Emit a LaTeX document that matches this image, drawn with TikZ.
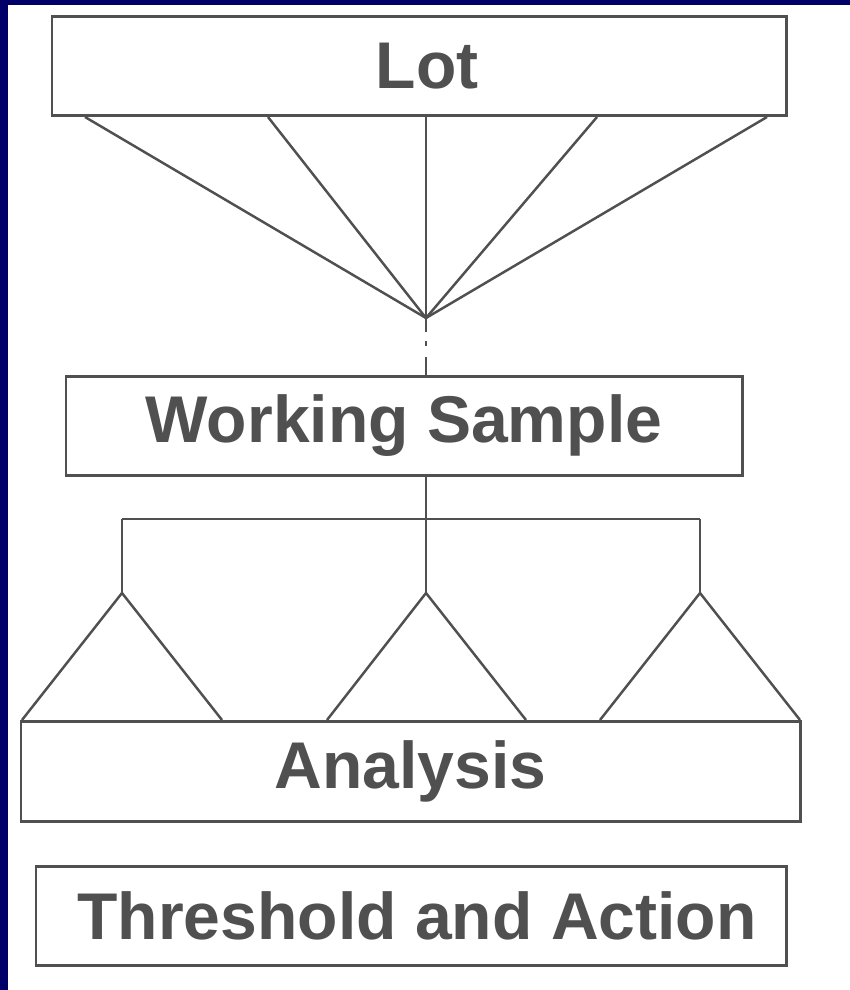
\documentclass[tikz,border=0pt]{standalone}
\usepackage{fontspec}
\setmainfont{Liberation Sans}
\usepackage{tikz}

\definecolor{navy}{RGB}{0,0,104}
\definecolor{ink}{RGB}{80,80,80}

\tikzset{
  box/.style={draw=ink, line width=0.85pt, inner sep=0pt, text=ink,
    font=\fontsize{18.8}{22}\bfseries\selectfont},
  link/.style={draw=ink, line width=0.7pt}
}

\begin{document}
\begin{tikzpicture}
   \fill [white] (0, 0) rectangle (8.5, -9.9);
   \fill [navy] (0, 0) rectangle (0.08, -9.9);
   \fill [navy] (0, 0) rectangle (8.5, -0.05);
   \useasboundingbox (0, 0) rectangle (8.5, -9.9);

   \node [box, minimum width=7.34cm, minimum height=0.99cm] (lot) at (4.19, -0.66) {\hspace*{0.16cm}Lot};
   \node [box, minimum width=6.76cm, minimum height=0.99cm] (ws) at (4.04, -4.26) {Working Sample};
   \node [box, minimum width=7.79cm, minimum height=1.0cm] (ana) at (4.105, -7.715) {Analysis};
   \node [box, minimum width=7.50cm, minimum height=0.99cm] (act) at (4.11, -9.16) {\hspace*{0.12cm}Threshold and Action};

   \coordinate (apex) at (4.26, -3.18);
   \coordinate (l1) at (0.85, -1.17);
   \coordinate (l2) at (2.68, -1.17);
   \coordinate (l3) at (4.26, -1.17);
   \coordinate (l4) at (5.97, -1.17);
   \coordinate (l5) at (7.67, -1.17);
   \foreach \p in {l1, l2, l3, l4, l5}
      \draw [link] (\p) -- (apex);
   \draw [ink, line width=0.85pt, dash pattern=on 4pt off 2.6pt on 1.4pt off 3.1pt on 5.1pt off 10pt]
      (apex) -- (ws.north -| apex);

   \coordinate (fork) at (4.26, -5.19);
   \coordinate (bl) at (1.22, -5.19);
   \coordinate (br) at (7.0, -5.19);
   \draw [link] (ws.south -| fork) -- (fork);
   \draw [link] (bl) -- (br);

   \coordinate (t1) at (1.22, -5.93);
   \coordinate (t2) at (4.26, -5.93);
   \coordinate (t3) at (7.0, -5.93);
   \draw [link] (bl) -- (t1);
   \draw [link] (fork) -- (t2);
   \draw [link] (br) -- (t3);

   \draw [link] (0.22, -7.2) -- (t1) -- (2.22, -7.2);
   \draw [link] (3.27, -7.2) -- (t2) -- (5.26, -7.2);
   \draw [link] (6.0, -7.2) -- (t3) -- (8.0, -7.2);
\end{tikzpicture}
\end{document}
